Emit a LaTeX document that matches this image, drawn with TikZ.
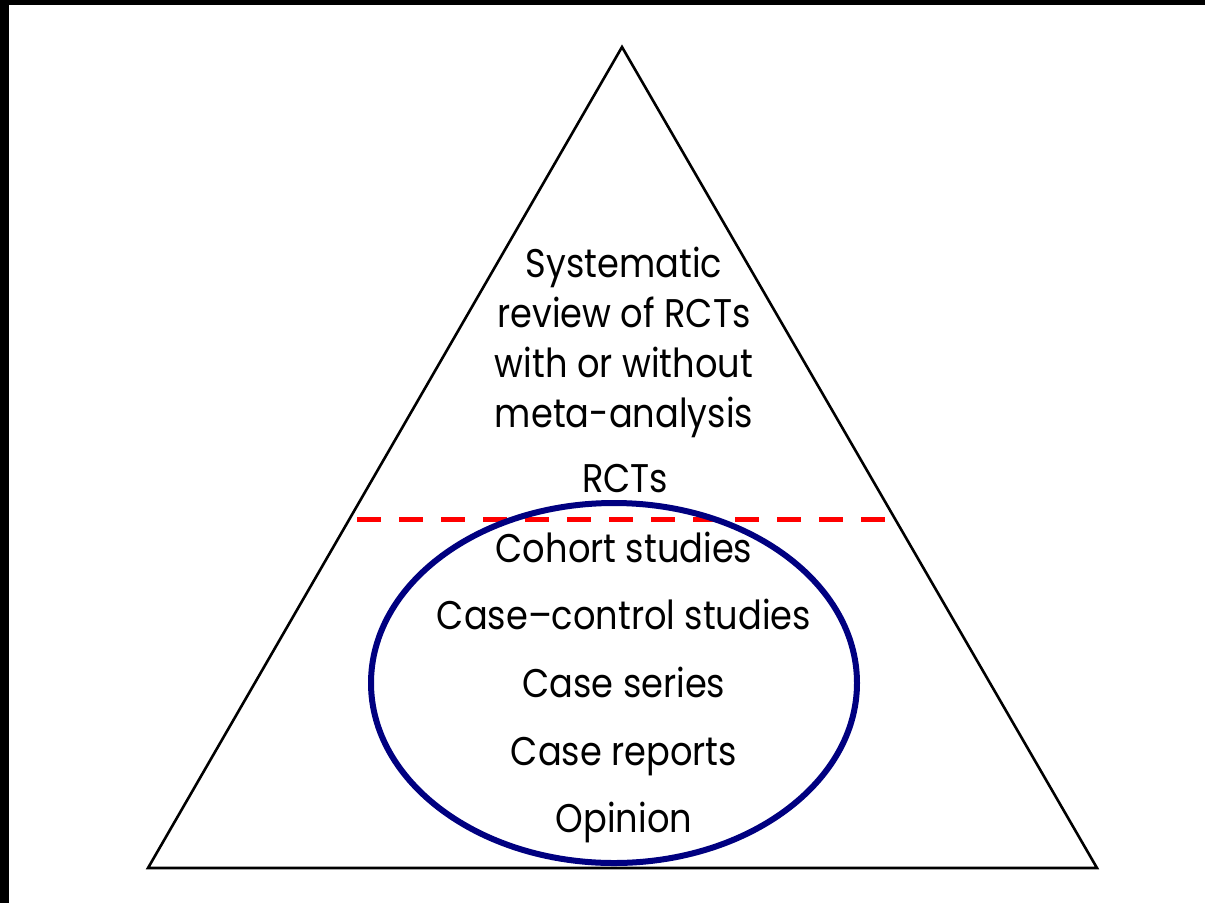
\documentclass[tikz,border=0pt]{standalone}
\usepackage{fontspec}
\setmainfont{Poppins}[FakeStretch=0.88]
\usetikzlibrary{shapes.geometric}
\definecolor{ovalblue}{RGB}{0,0,128}
\definecolor{cutred}{RGB}{255,0,0}
\begin{document}
\begin{tikzpicture}[x=1pt,y=-1pt,
  level/.style={anchor=base,inner sep=0pt,font=\fontsize{40}{42}\selectfont},
  pyramid/.style={draw=black,line width=2.6pt,line join=miter},
  cutline/.style={draw=cutred,line width=5pt,dash pattern=on 24pt off 18pt},
  oval/.style={draw=ovalblue,line width=6pt,ellipse,inner sep=0pt,
    minimum width=486pt,minimum height=360pt}]
  \useasboundingbox (0,0) rectangle (1205,903);
  \fill[white] (0,0) rectangle (1205,903);
  % dark frame on the left and top edges
  \fill[black] (0,0) rectangle (9,903);
  \fill[black] (0,0) rectangle (1205,5);

  % the pyramid
  \coordinate (apex) at (622,47);
  \coordinate (bl) at (148,868);
  \coordinate (br) at (1097,868);
  \draw[pyramid] (apex) -- (bl) -- (br) -- cycle;

  % upper levels
  \node[level] (sr1) at (624,277) {Systematic};
  \node[level] (sr2) at (624,327) {review of RCTs};
  \node[level] (sr3) at (624,377) {with or without};
  \node[level] (sr4) at (624,427) {meta-analysis};
  \node[level] (rct) at (625,492) {RCTs};

  % dividing line
  \coordinate (cutL) at (357,519);
  \coordinate (cutR) at (886,519);
  \draw[cutline] (cutL) -- (cutR);

  % lower levels
  \node[level] (coh) at (624,562) {Cohort studies};
  \node[level] (cc)  at (624,629) {Case–control studies};
  \node[level] (cs)  at (624,697) {Case series};
  \node[level] (cr)  at (624,765) {Case reports};
  \node[level] (op)  at (624,832) {Opinion};

  % oval around the observational levels
  \node[oval] (ring) at (614,683) {};
\end{tikzpicture}
\end{document}
